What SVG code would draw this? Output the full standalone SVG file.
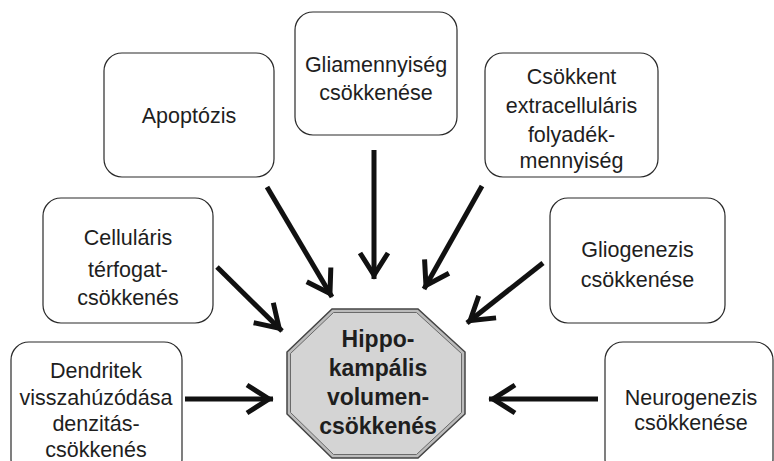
<svg xmlns="http://www.w3.org/2000/svg" width="774" height="461" viewBox="0 0 774 461">
<style>
.box{fill:#fff;stroke:#2a2a2a;stroke-width:1.2}
.t{font-family:"Liberation Sans",Arial,sans-serif;font-size:21.5px;fill:#1e1e1e;text-anchor:middle}
.tb{font-family:"Liberation Sans",Arial,sans-serif;font-size:23px;font-weight:bold;fill:#1e1e1e;text-anchor:middle}
.arr{stroke:#111;stroke-width:5;fill:none;marker-end:url(#chev)}
</style>
<defs>
<marker id="chev" markerUnits="userSpaceOnUse" orient="auto" refX="4" refY="0" markerWidth="40" markerHeight="40" viewBox="-30 -20 40 40" overflow="visible">
<path d="M-22,-14 L0,0 L-22,14" fill="none" stroke="#111" stroke-width="5" stroke-linejoin="miter" stroke-miterlimit="10"/>
</marker>
</defs>
<rect width="774" height="461" fill="#fff"/>
<g id="connectors">
<line class="arr" x1="217" y1="267" x2="282" y2="331"/>
<line class="arr" x1="267" y1="187" x2="332" y2="297"/>
<line class="arr" x1="374" y1="150" x2="374" y2="279"/>
<line class="arr" x1="482" y1="186" x2="424" y2="289"/>
<line class="arr" x1="543" y1="263" x2="467" y2="323"/>
<line class="arr" x1="185" y1="399" x2="273" y2="399"/>
<line class="arr" x1="598" y1="399" x2="489" y2="399"/>
</g>
<g id="center">
<polygon points="332,309 418,309 465,352 465,414 418,458 332,458 287,414 287,352" fill="#bcbcbc" stroke="#444" stroke-width="1.5"/>
<polygon points="333.5,312.5 416.5,312.5 461.5,353.5 461.5,412.5 416.5,454.5 333.5,454.5 290.5,412.5 290.5,353.5" fill="#d4d4d4" stroke="#6a6a6a" stroke-width="1"/>
<text class="tb" x="378" y="347">Hippo-</text>
<text class="tb" x="378" y="376">kampális</text>
<text class="tb" x="378" y="405">volumen-</text>
<text class="tb" x="378" y="434">csökkenés</text>
</g>
<g id="apoptozis">
<rect class="box" x="104" y="53" width="170" height="124" rx="18"/>
<text class="t" x="189" y="123">Apoptózis</text>
</g>
<g id="gliamennyiseg">
<rect class="box" x="295" y="12" width="162" height="123" rx="18"/>
<text class="t" x="376" y="72">Gliamennyiség</text>
<text class="t" x="376" y="100">csökkenése</text>
</g>
<g id="csokkent">
<rect class="box" x="485" y="53" width="173" height="124" rx="18"/>
<text class="t" x="571.5" y="84">Csökkent</text>
<text class="t" x="571.5" y="113">extracelluláris</text>
<text class="t" x="571.5" y="142">folyadék-</text>
<text class="t" x="571.5" y="168">mennyiség</text>
</g>
<g id="cellularis">
<rect class="box" x="43" y="198" width="170" height="125" rx="18"/>
<text class="t" x="128" y="245">Celluláris</text>
<text class="t" x="128" y="277">térfogat-</text>
<text class="t" x="128" y="305">csökkenés</text>
</g>
<g id="gliogenezis">
<rect class="box" x="550" y="198" width="175" height="125" rx="18"/>
<text class="t" x="637.5" y="257">Gliogenezis</text>
<text class="t" x="637.5" y="287">csökkenése</text>
</g>
<g id="dendritek">
<rect class="box" x="11" y="342" width="171" height="135" rx="18"/>
<text class="t" x="96" y="378">Dendritek</text>
<text class="t" x="96" y="405">visszahúzódása</text>
<text class="t" x="96" y="431">denzitás-</text>
<text class="t" x="96" y="457">csökkenés</text>
</g>
<g id="neurogenezis">
<rect class="box" x="605" y="342" width="168" height="135" rx="18"/>
<text class="t" x="691" y="405">Neurogenezis</text>
<text class="t" x="691" y="430">csökkenése</text>
</g>
</svg>
